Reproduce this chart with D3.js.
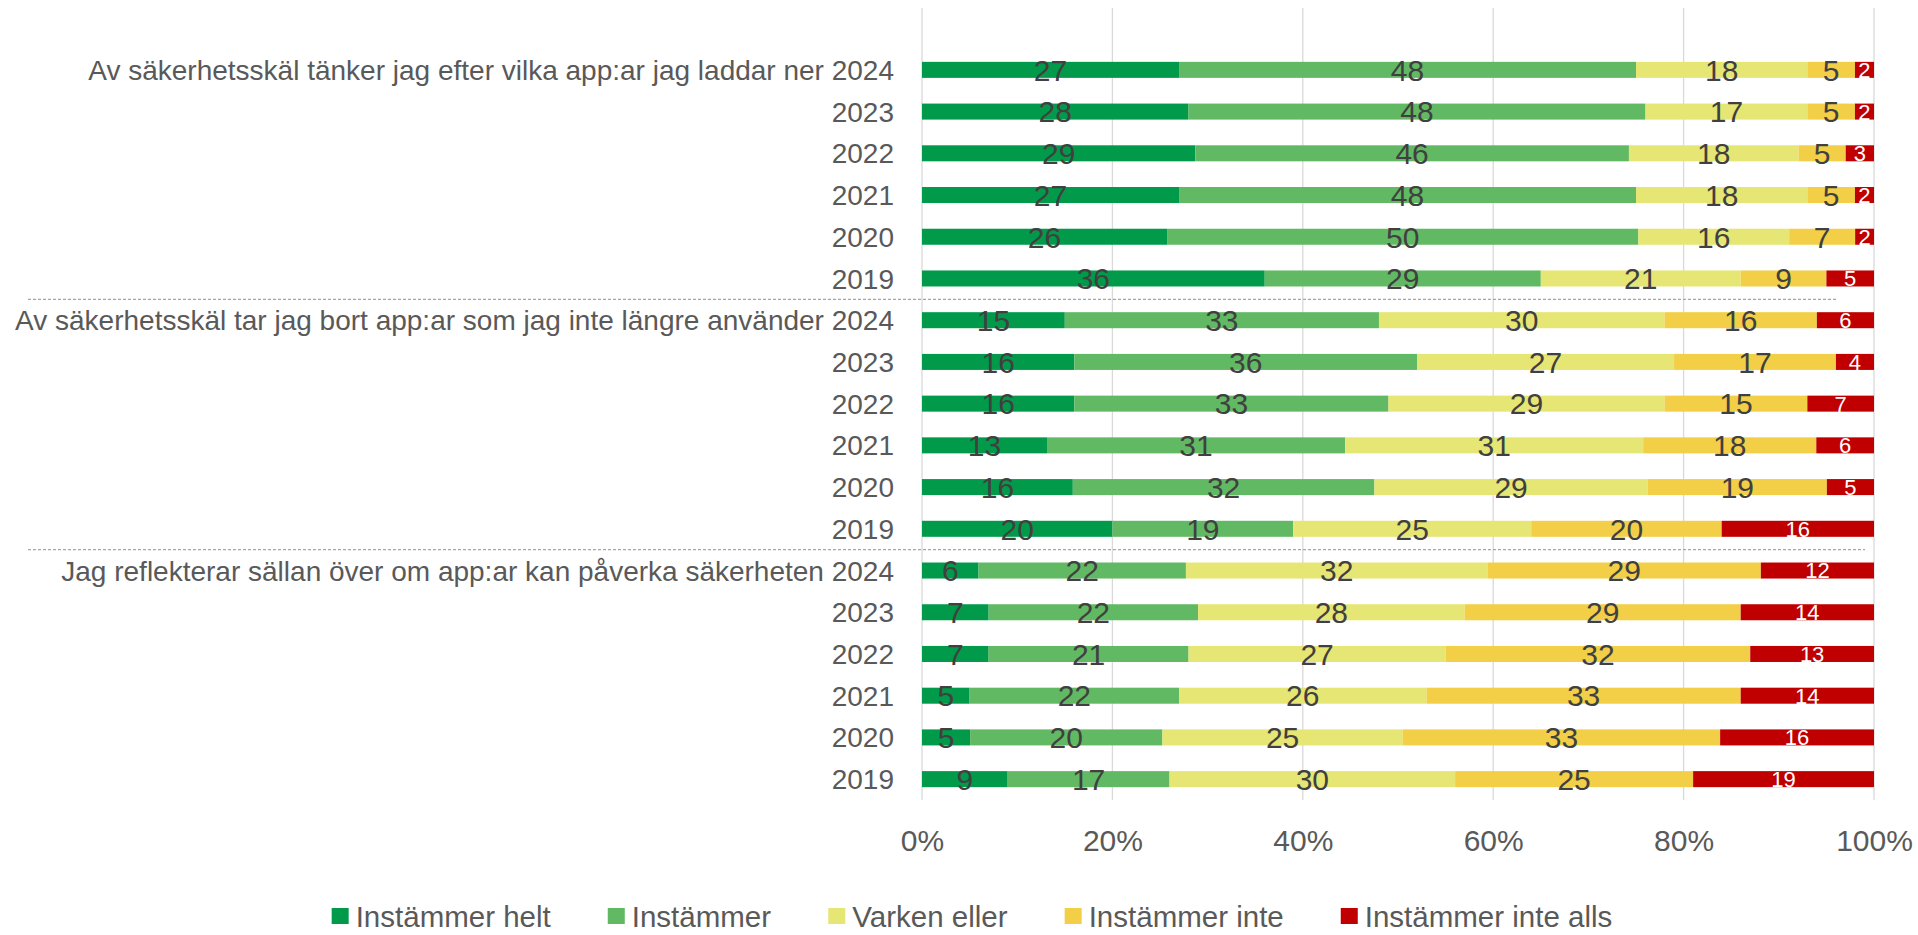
<!DOCTYPE html>
<html>
<head>
<meta charset="utf-8">
<script src="https://d3js.org/d3.v7.min.js"></script>
<style>
  body { margin: 0; background: #fff; }
  svg text { font-family: "Liberation Sans", Arial, sans-serif; }
</style>
</head>
<body>
<div id="chart"></div>
<script>
// chart data
var groups = [
    "Av säkerhetsskäl tänker jag efter vilka app:ar jag laddar ner",
    "Av säkerhetsskäl tar jag bort app:ar som jag inte längre använder",
    "Jag reflekterar sällan över om app:ar kan påverka säkerheten"
];
var years = ["2024", "2023", "2022", "2021", "2020", "2019"];
var seriesNames = ["Instämmer helt", "Instämmer", "Varken eller", "Instämmer inte", "Instämmer inte alls"];
var seriesColors = ["#009a4a", "#62b963", "#e6e674", "#f2cf46", "#c00000"];
var tickValues = [0, 20, 40, 60, 80, 100];

// one row per group and year: [helt, instämmer, varken, inte, inte alls]
var group1 = [
    [27, 48, 18, 5, 2],
    [28, 48, 17, 5, 2],
    [29, 46, 18, 5, 3],
    [27, 48, 18, 5, 2],
    [26, 50, 16, 7, 2],
    [36, 29, 21, 9, 5]
];
var group2 = [
    [15, 33, 30, 16, 6],
    [16, 36, 27, 17, 4],
    [16, 33, 29, 15, 7],
    [13, 31, 31, 18, 6],
    [16, 32, 29, 19, 5],
    [20, 19, 25, 20, 16]
];
var group3 = [
    [6, 22, 32, 29, 12],
    [7, 22, 28, 29, 14],
    [7, 21, 27, 32, 13],
    [5, 22, 26, 33, 14],
    [5, 20, 25, 33, 16],
    [9, 17, 30, 25, 19]
];

var svgWidth = 1918;
var svgHeight = 935;

var svg = d3.select("#chart")
    .append("svg")
    .attr("width", svgWidth)
    .attr("height", svgHeight);

// build rows
var rows = [];
[group1, group2, group3].forEach(function (g, gi) {
    g.forEach(function (vals, yi) {
        rows.push({ key: gi + "-" + years[yi], group: gi, year: years[yi], first: yi === 0, vals: vals });
    });
});

// scales
var x = d3.scaleLinear().domain([0, 100]).range([922, 1874]);
var y = d3.scaleBand()
    .domain(rows.map(d => d.key))
    .range([49, 800])
    .paddingInner(0.616)
    .paddingOuter(0.308);

// gridlines
svg.append("g")
    .selectAll("line")
    .data(tickValues)
    .enter()
    .append("line")
    .attr("x1", d => x(d))
    .attr("x2", d => x(d))
    .attr("y1", 8)
    .attr("y2", 800)
    .attr("stroke", "#d9d9d9")
    .attr("stroke-width", 1.3);

// stack each row to 100%
rows.forEach(function (r) {
    var total = d3.sum(r.vals);
    var acc = 0;
    r.segs = r.vals.map(function (v, i) {
        var s = { row: r, i: i, v: v, x0: acc / total * 100, x1: (acc + v) / total * 100 };
        acc += v;
        return s;
    });
});

var segs = rows.flatMap(r => r.segs);

svg.append("g")
    .selectAll("rect")
    .data(segs)
    .enter()
    .append("rect")
    .attr("x", d => x(d.x0))
    .attr("width", d => x(d.x1) - x(d.x0))
    .attr("y", d => y(d.row.key))
    .attr("height", y.bandwidth())
    .attr("fill", d => seriesColors[d.i]);

// value labels
svg.append("g")
    .selectAll("text")
    .data(segs)
    .enter()
    .append("text")
    .attr("x", d => (x(d.x0) + x(d.x1)) / 2)
    .attr("y", d => y(d.row.key) + y.bandwidth() / 2)
    .attr("dy", "0.36em")
    .attr("text-anchor", "middle")
    .attr("font-size", d => d.i === 4 ? "22px" : "30px")
    .attr("fill", d => d.i === 4 ? "#ffffff" : "#404040")
    .text(d => d.v);

// category labels
svg.append("g")
    .selectAll("text")
    .data(rows)
    .enter()
    .append("text")
    .attr("x", 894)
    .attr("y", d => y(d.key) + y.bandwidth() / 2)
    .attr("dy", "0.36em")
    .attr("text-anchor", "end")
    .attr("font-size", "28px")
    .attr("fill", "#595959")
    .text(d => d.first ? groups[d.group] + " " + d.year : d.year);

// dashed group separators
var sepEnds = [1838, 1865];
svg.append("g")
    .selectAll("line")
    .data([1, 2])
    .enter()
    .append("line")
    .attr("x1", 28)
    .attr("x2", (d, i) => sepEnds[i])
    .attr("y1", d => (y(rows[d * 6 - 1].key) + y(rows[d * 6].key) + y.bandwidth()) / 2)
    .attr("y2", d => (y(rows[d * 6 - 1].key) + y(rows[d * 6].key) + y.bandwidth()) / 2)
    .attr("stroke", "#a6a6a6")
    .attr("stroke-width", 1.3)
    .attr("stroke-dasharray", "3,2");

// x axis tick labels
var bottomAxis = d3.axisBottom(x)
    .tickValues(tickValues)
    .tickFormat(d => d + "%")
    .tickSize(0)
    .tickPadding(0);

var axisG = svg.append("g")
    .attr("transform", "translate(0, 830)")
    .call(bottomAxis);
axisG.select(".domain").remove();
axisG.selectAll("text")
    .attr("font-family", "Liberation Sans, Arial, sans-serif")
    .attr("font-size", "30px")
    .attr("fill", "#595959")
    .attr("dy", "0.36em")
    .attr("y", 10);

// legend
var legendGap = 57;
var legend = svg.append("g");
var items = legend.selectAll("g")
    .data(seriesNames)
    .enter()
    .append("g");
items.append("rect")
    .attr("width", 17)
    .attr("height", 16)
    .attr("y", -8)
    .attr("fill", (d, i) => seriesColors[i]);
items.append("text")
    .attr("x", 24)
    .attr("dy", "0.36em")
    .attr("font-size", "29.5px")
    .attr("fill", "#595959")
    .text(d => d);

var cx = 0;
items.each(function () {
    var w = this.getBBox().width;
    d3.select(this).attr("transform", `translate(${cx}, 0)`);
    cx += w + legendGap;
});
var legendW = cx - legendGap;
legend.attr("transform", `translate(${972 - legendW / 2}, 916)`);
</script>
</body>
</html>
